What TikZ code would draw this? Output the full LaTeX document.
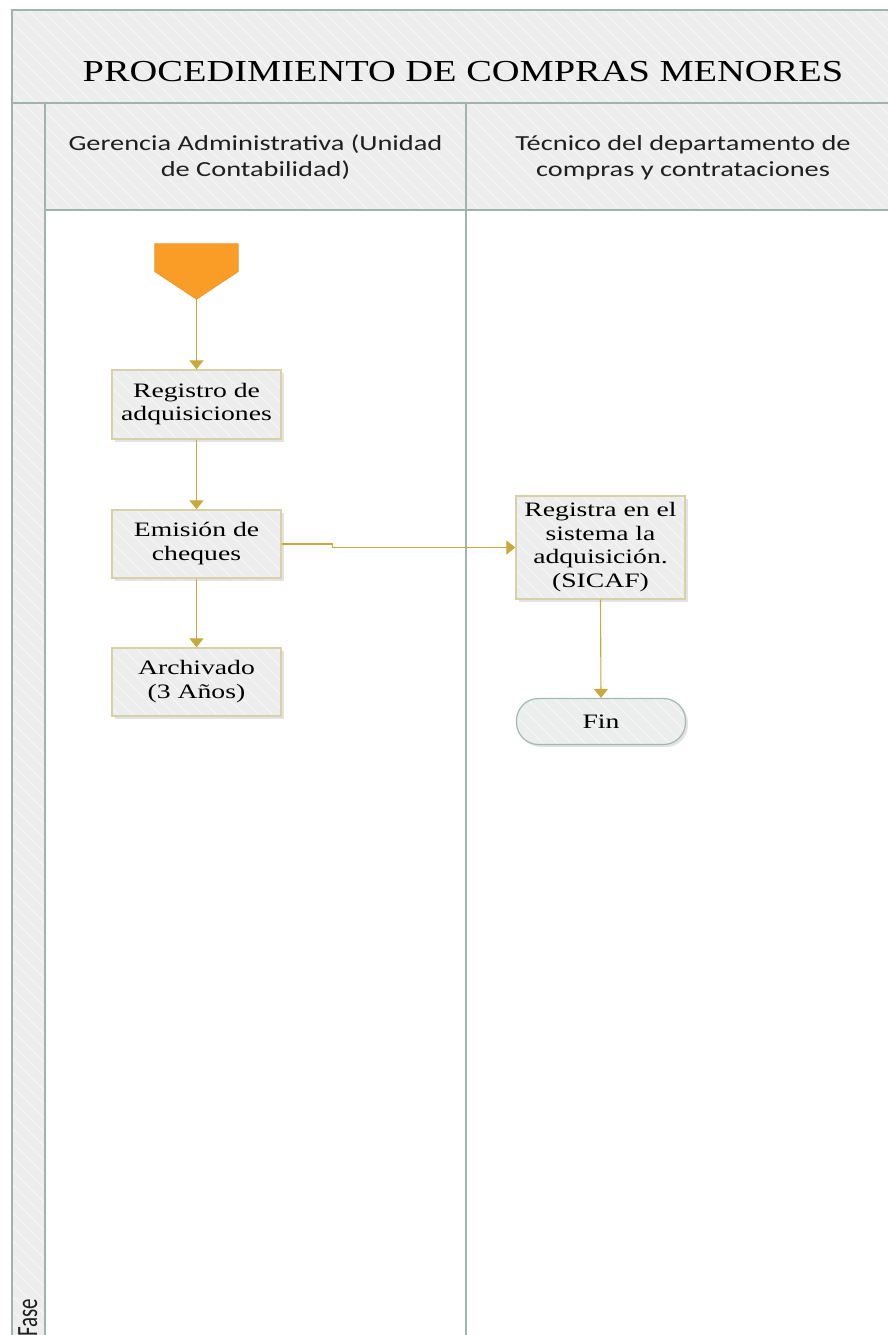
\documentclass[tikz,border=0pt]{standalone}
\usepackage{graphicx}
\usepackage{fontspec}
\setmainfont{Liberation Serif}
\newfontfamily\calib{Carlito}
\usetikzlibrary{arrows.meta,shadows}
\definecolor{frameline}{HTML}{9FB4AC}
\definecolor{bggray}{HTML}{EDEDED}
\definecolor{arrowc}{HTML}{C9A83C}
\definecolor{boxline}{HTML}{D8D1A8}
\definecolor{orangec}{HTML}{F99D27}
\definecolor{orangeline}{HTML}{EA9530}
\definecolor{finline}{HTML}{A2B9B1}
\definecolor{finfill}{HTML}{EBEEEC}
\newcommand\wx[1]{\scalebox{1.35}[1]{#1}}
\newcommand\hx[1]{\scalebox{1.32}[1]{#1}}
\begin{document}
\begin{tikzpicture}[x=1pt,y=-1pt,
  stripe/.style={draw=white, line width=0.9pt, opacity=0.5},
  striped/.style={path picture={\foreach \i in {-130,-116,...,190}{\draw[stripe] ([xshift=\i pt]path picture bounding box.north west) -- ++(140,140);}}},
  procbox/.style={draw=boxline, line width=1.3pt, fill=bggray, inner sep=0pt, striped,
    font=\fontsize{20.5}{23.5}\selectfont,
    drop shadow={opacity=0.22, shadow xshift=2.5pt, shadow yshift=-2.5pt}},
  finbox/.style={draw=finline, line width=1.2pt, fill=finfill, inner sep=0pt, striped,
    rounded corners=22pt, font=\fontsize{20.5}{23.5}\selectfont,
    drop shadow={opacity=0.22, shadow xshift=2.5pt, shadow yshift=-2.5pt}},
  headtext/.style={inner sep=0pt, text=black!88, font=\calib\fontsize{21.5}{26}\selectfont},
  flow/.style={draw=arrowc, line width=1.1pt, -{Triangle[width=14pt,length=9pt]}},
  lane/.style={draw=frameline, line width=1.6pt},
]
\useasboundingbox (0,0) rectangle (888,1335);
\fill[white] (0,0) rectangle (888,1335);
% striped gray background of the pool
\begin{scope}
  \clip (12,10) rectangle (900,1345);
  \fill[bggray] (12,10) rectangle (900,1345);
  \foreach \i in {-1400,-1386,...,900}{\draw[stripe] (\i,10) -- ++(1400,1400);}
\end{scope}
% white lane bodies
\fill[white] (45,210) rectangle (900,1345);
% frame lines
\draw[lane] (12,10) rectangle (900,1345);
\draw[lane] (12,103) -- (900,103);
\draw[lane] (45,103) -- (45,1345);
\draw[lane] (45,210) -- (900,210);
\draw[lane] (466,103) -- (466,1345);

% texts of the pool
\node[inner sep=0pt, anchor=base] (title) at (463,82) {\fontsize{30.5}{34}\selectfont\scalebox{1.26}[1]{PROCEDIMIENTO DE COMPRAS MENORES}};
\node[headtext] (lane1) at (255.5,158.8) {\hx{\begin{tabular}{@{}c@{}}Gerencia Administrativa (Unidad\\de Contabilidad)\end{tabular}}};
\node[headtext] (lane2) at (683,158.8) {\hx{\begin{tabular}{@{}c@{}}Técnico del departamento de\\compras y contrataciones\end{tabular}}};
\node[inner sep=0pt, rotate=90, anchor=base west, text=black!88] (fase) at (37,1337) {\calib\fontsize{21}{24}\selectfont\scalebox{1}[1.4]{Fase}};

% start connector
\node[minimum width=83pt, minimum height=55pt, inner sep=0pt] (start) at (196.5,271.5) {};
\filldraw[fill=orangec, draw=orangeline, line width=0.8pt] (start.north west) -- (start.north east) -- (start.east) -- (start.south) -- (start.west) -- cycle;

% process boxes
\node[procbox, minimum width=169pt, minimum height=69pt] (reg) at (196.5,404.5) {\wx{\begin{tabular}{@{}c@{}}Registro de\\adquisiciones\end{tabular}}};
\node[procbox, minimum width=169pt, minimum height=68pt] (emi) at (196.5,544) {\wx{\begin{tabular}{@{}c@{}}Emisión de\\cheques\end{tabular}}};
\node[procbox, minimum width=169pt, minimum height=68pt] (arc) at (196.5,682) {\wx{\begin{tabular}{@{}c@{}}Archivado\\(3 Años)\end{tabular}}};
\node[procbox, minimum width=169pt, minimum height=103pt] (sic) at (600.5,547.5) {\wx{\begin{tabular}{@{}c@{}}Registra en el\\sistema la\\adquisición.\\(SICAF)\end{tabular}}};
\node[finbox, minimum width=169pt, minimum height=46pt] (fin) at (601,721.5) {\wx{Fin}};

% connectors
\draw[flow] (start.south) -- (reg.north);
\draw[flow] (reg.south) -- (emi.north);
\draw[flow] (emi.south) -- (arc.north);
\draw[flow] (emi.east) -- ++(51,0) |- (sic.west);
\draw[flow] (sic.south) -- (fin.north);
\end{tikzpicture}
\end{document}
